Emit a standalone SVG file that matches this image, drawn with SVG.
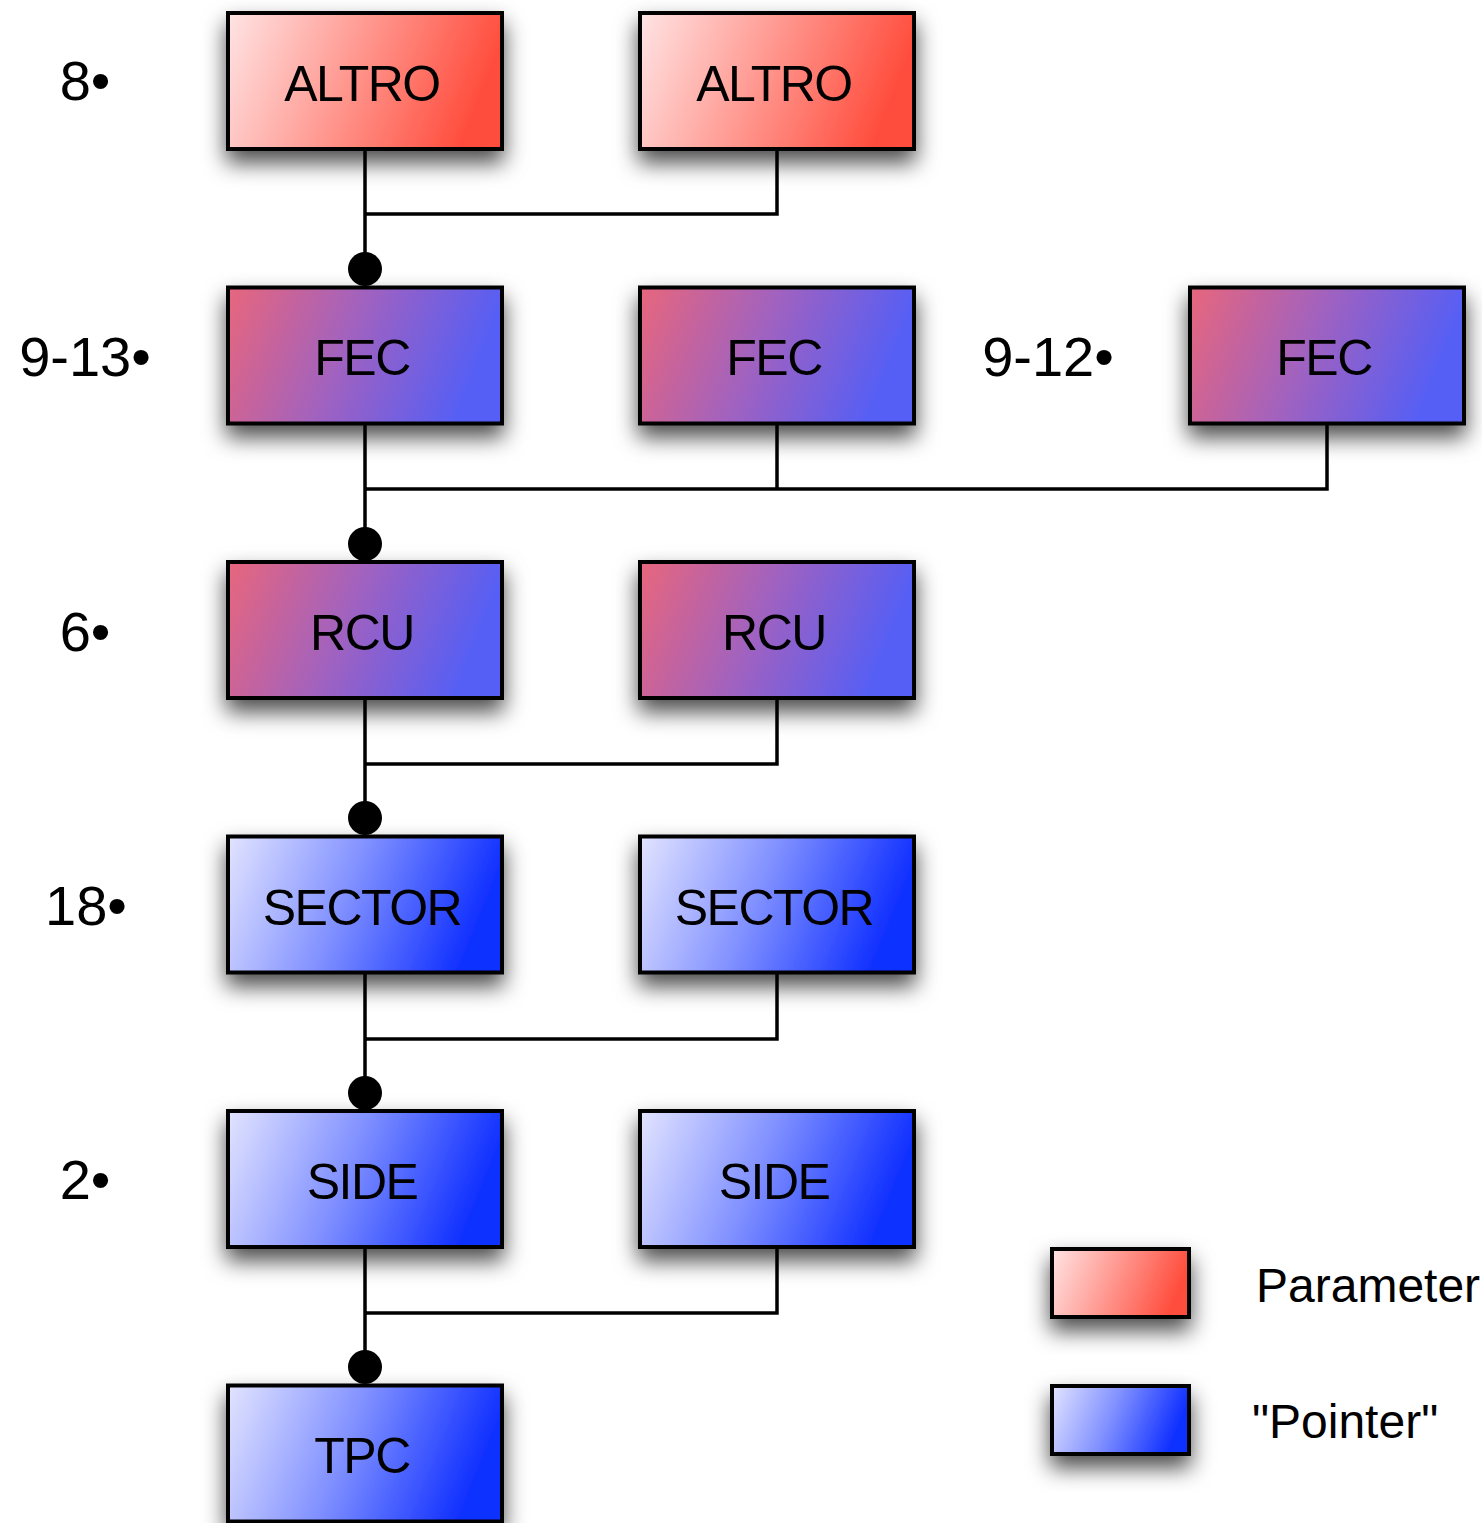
<svg xmlns="http://www.w3.org/2000/svg" width="1482" height="1523" viewBox="0 0 1482 1523">
<defs>
<linearGradient id="gRed" x1="0" y1="0" x2="1" y2="0.2">
<stop offset="0" stop-color="#ffe4e4"/>
<stop offset="1" stop-color="#ff4e3e"/>
</linearGradient>
<linearGradient id="gPur" x1="0" y1="0" x2="1" y2="0.2">
<stop offset="0" stop-color="#e8667c"/>
<stop offset="0.5" stop-color="#a062c0"/>
<stop offset="1" stop-color="#545ef6"/>
</linearGradient>
<linearGradient id="gBlue" x1="0" y1="0" x2="1" y2="0.2">
<stop offset="0" stop-color="#e2e4ff"/>
<stop offset="0.5" stop-color="#8090ff"/>
<stop offset="1" stop-color="#1030ff"/>
</linearGradient>
<filter id="sh" x="-25%" y="-35%" width="150%" height="190%">
<feDropShadow dx="0" dy="12" stdDeviation="11" flood-color="#000" flood-opacity="0.7"/>
</filter>
</defs>
<style>
.box{stroke:#000;stroke-width:4;filter:url(#sh)}
.red{fill:url(#gRed)}
.pur{fill:url(#gPur)}
.blue{fill:url(#gBlue)}
.bt{font-family:"Liberation Sans",Arial,sans-serif;font-size:50px;letter-spacing:-1.5px;text-anchor:middle;fill:#000}
.lbl{font-family:"Liberation Sans",Arial,sans-serif;font-size:56px;text-anchor:middle;fill:#000}
.leg{font-family:"Liberation Sans",Arial,sans-serif;font-size:48px;fill:#000}
.ln{fill:none;stroke:#000;stroke-width:3.5}
.dot{fill:#000}
</style>
<rect width="1482" height="1523" fill="#fff"/>

<g id="labels">
<text class="lbl" x="85" y="100">8•</text>
<text class="lbl" x="85" y="376">9-13•</text>
<text class="lbl" x="1048" y="376">9-12•</text>
<text class="lbl" x="85" y="651">6•</text>
<text class="lbl" x="86" y="925">18•</text>
<text class="lbl" x="85" y="1199">2•</text>
</g>

<g id="altro1"><rect class="box red" x="228" y="13" width="274" height="136"/><text class="bt" x="362" y="101">ALTRO</text></g>
<g id="altro2"><rect class="box red" x="640" y="13" width="274" height="136"/><text class="bt" x="774" y="101">ALTRO</text></g>

<g id="fec1"><rect class="box pur" x="228" y="287.5" width="274" height="136"/><text class="bt" x="362" y="375">FEC</text></g>
<g id="fec2"><rect class="box pur" x="640" y="287.5" width="274" height="136"/><text class="bt" x="774" y="375">FEC</text></g>
<g id="fec3"><rect class="box pur" x="1190" y="287.5" width="274" height="136"/><text class="bt" x="1324" y="375">FEC</text></g>

<g id="rcu1"><rect class="box pur" x="228" y="562" width="274" height="136"/><text class="bt" x="362" y="650">RCU</text></g>
<g id="rcu2"><rect class="box pur" x="640" y="562" width="274" height="136"/><text class="bt" x="774" y="650">RCU</text></g>

<g id="sector1"><rect class="box blue" x="228" y="836.5" width="274" height="136"/><text class="bt" x="362" y="925">SECTOR</text></g>
<g id="sector2"><rect class="box blue" x="640" y="836.5" width="274" height="136"/><text class="bt" x="774" y="925">SECTOR</text></g>

<g id="side1"><rect class="box blue" x="228" y="1111" width="274" height="136"/><text class="bt" x="362" y="1199">SIDE</text></g>
<g id="side2"><rect class="box blue" x="640" y="1111" width="274" height="136"/><text class="bt" x="774" y="1199">SIDE</text></g>

<g id="tpc"><rect class="box blue" x="228" y="1385.5" width="274" height="136"/><text class="bt" x="362" y="1473">TPC</text></g>

<g id="legend-param"><rect class="box red" x="1052" y="1249" width="137" height="68"/><text class="leg" x="1256" y="1302">Parameter</text></g>
<g id="legend-pointer"><rect class="box blue" x="1052" y="1386" width="137" height="68"/><text class="leg" x="1252" y="1438">"Pointer"</text></g>

<g id="connectors">
<path class="ln" d="M365 149V269M777 149V214H365"/>
<circle class="dot" cx="365" cy="269" r="17"/>
<path class="ln" d="M365 423.5V544M777 423.5V489M1327 423.5V489H365"/>
<circle class="dot" cx="365" cy="544" r="17"/>
<path class="ln" d="M365 698V818M777 698V764H365"/>
<circle class="dot" cx="365" cy="818" r="17"/>
<path class="ln" d="M365 972.5V1093M777 972.5V1039H365"/>
<circle class="dot" cx="365" cy="1093" r="17"/>
<path class="ln" d="M365 1247V1367M777 1247V1313H365"/>
<circle class="dot" cx="365" cy="1367" r="17"/>
</g>
</svg>
